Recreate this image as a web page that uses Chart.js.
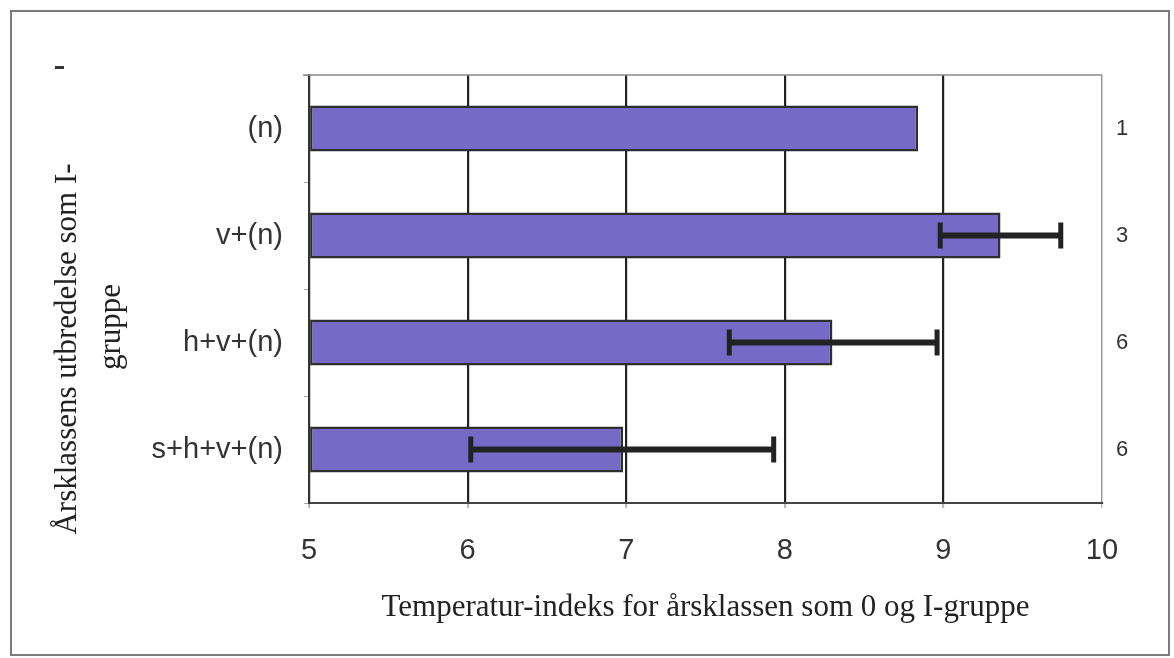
<!DOCTYPE html>
<html>
<head>
<meta charset="utf-8">
<script src="https://cdn.jsdelivr.net/npm/chart.js@4.4.1/dist/chart.umd.min.js"></script>
<style>
  html, body { margin: 0; padding: 0; background: #fff; }
  #wrap { width: 1174px; height: 658px; position: relative; }
</style>
</head>
<body>
<div id="wrap"><canvas id="chart"></canvas></div>
<script>
// Data
const categories = ['(n)', 'v+(n)', 'h+v+(n)', 's+h+v+(n)'];
const nCounts = ['1', '3', '6', '6'];
const tempIndex = [8.84, 9.36, 8.30, 6.98];
const errLow = [null, 8.98, 7.65, 6.02];
const errHigh = [null, 9.74, 8.96, 7.93];
const xTicks = [5, 6, 7, 8, 9, 10];

const yTitleLines = ['Årsklassens utbredelse som I-', 'gruppe'];
const xTitle = 'Temperatur-indeks for årsklassen som 0 og I-gruppe';

const sans = '"Liberation Sans", Arial, sans-serif';
const serif = '"Liberation Serif", "Times New Roman", serif';

// Frame, top line of the plot and the rotated y title
const decorations = {
    id: 'decorations',
    beforeDraw(chart) {
        const c = chart.ctx;
        c.save();
        c.fillStyle = '#fff';
        c.fillRect(0, 0, chart.width, chart.height);
        c.strokeStyle = '#7a7a7a';
        c.lineWidth = 2;
        c.strokeRect(11, 11, 1158, 644);
        c.fillStyle = '#333';
        c.fillRect(55, 66, 9, 3);
        c.restore();
    },
    afterDraw(chart) {
        const c = chart.ctx;
        const area = chart.chartArea;
        c.save();
        c.strokeStyle = '#8a8a8a';
        c.lineWidth = 1.5;
        c.beginPath();
        c.moveTo(area.left - 6, area.top);
        c.lineTo(area.right, area.top);
        c.stroke();

        c.fillStyle = '#222';
        c.font = '31px ' + serif;
        c.textAlign = 'center';
        c.textBaseline = 'middle';
        c.translate(68, 349);
        c.rotate(-Math.PI / 2);
        c.fillText(yTitleLines[0], 0, 0);
        c.fillText(yTitleLines[1], 22, 44);
        c.restore();
    }
};

// Error bars drawn through the scales
const errorBars = {
    id: 'errorBars',
    afterDatasetsDraw(chart) {
        const c = chart.ctx;
        const xs = chart.scales.x;
        const ys = chart.scales.y;
        c.save();
        c.strokeStyle = '#222';
        c.lineCap = 'butt';
        categories.forEach((cat, i) => {
            if (errLow[i] == null) return;
            const y = ys.getPixelForValue(i);
            const x1 = xs.getPixelForValue(errLow[i]);
            const x2 = xs.getPixelForValue(errHigh[i]);
            c.lineWidth = 6;
            c.beginPath();
            c.moveTo(x1, y);
            c.lineTo(x2, y);
            c.stroke();
            c.lineWidth = 5;
            c.beginPath();
            c.moveTo(x1, y - 13);
            c.lineTo(x1, y + 13);
            c.moveTo(x2, y - 13);
            c.lineTo(x2, y + 13);
            c.stroke();
        });
        c.restore();
    }
};

const ctx = document.getElementById('chart').getContext('2d');

new Chart(ctx, {
    type: 'bar',
    data: {
        labels: categories,
        datasets: [{
            data: tempIndex,
            base: 5,
            backgroundColor: '#776ac6',
            borderColor: '#2e2e2e',
            borderWidth: 2.5,
            borderSkipped: false,
            categoryPercentage: 1,
            barPercentage: 0.43
        }]
    },
    options: {
        indexAxis: 'y',
        responsive: true,
        maintainAspectRatio: false,
        animation: false,
        layout: {
            padding: { top: 75, left: 0, right: 0, bottom: 32 }
        },
        plugins: {
            legend: { display: false },
            tooltip: { enabled: false }
        },
        scales: {
            x: {
                type: 'linear',
                min: 5,
                max: 10,
                afterBuildTicks: axis => {
                    axis.ticks = xTicks.map(v => ({ value: v }));
                },
                afterFit: axis => { axis.height = 123; },
                grid: {
                    color: c => (c.tick && c.tick.value === 10) ? '#999' : '#222',
                    lineWidth: c => (c.tick && c.tick.value === 10) ? 1.5 : 2.2,
                    tickColor: '#bbb',
                    tickLength: 5
                },
                border: { display: true, color: '#444', width: 2 },
                ticks: {
                    color: '#333',
                    padding: 26,
                    font: { family: sans, size: 29 }
                },
                title: {
                    display: true,
                    text: xTitle,
                    color: '#222',
                    padding: { top: 0, bottom: 0 },
                    font: { family: serif, size: 31 }
                }
            },
            y: {
                type: 'category',
                afterFit: axis => { axis.width = 309; },
                grid: {
                    drawOnChartArea: false,
                    drawTicks: true,
                    tickLength: 5,
                    color: '#aaa'
                },
                border: { display: true, color: '#333', width: 2 },
                ticks: {
                    color: '#333',
                    padding: 21,
                    font: { family: sans, size: 29 }
                }
            },
            y2: {
                type: 'category',
                position: 'right',
                labels: nCounts,
                afterFit: axis => { axis.width = 72; },
                grid: { display: false },
                border: { display: false },
                ticks: {
                    color: '#333',
                    padding: 6,
                    font: { family: sans, size: 22 }
                }
            }
        }
    },
    plugins: [decorations, errorBars]
});
</script>
</body>
</html>
